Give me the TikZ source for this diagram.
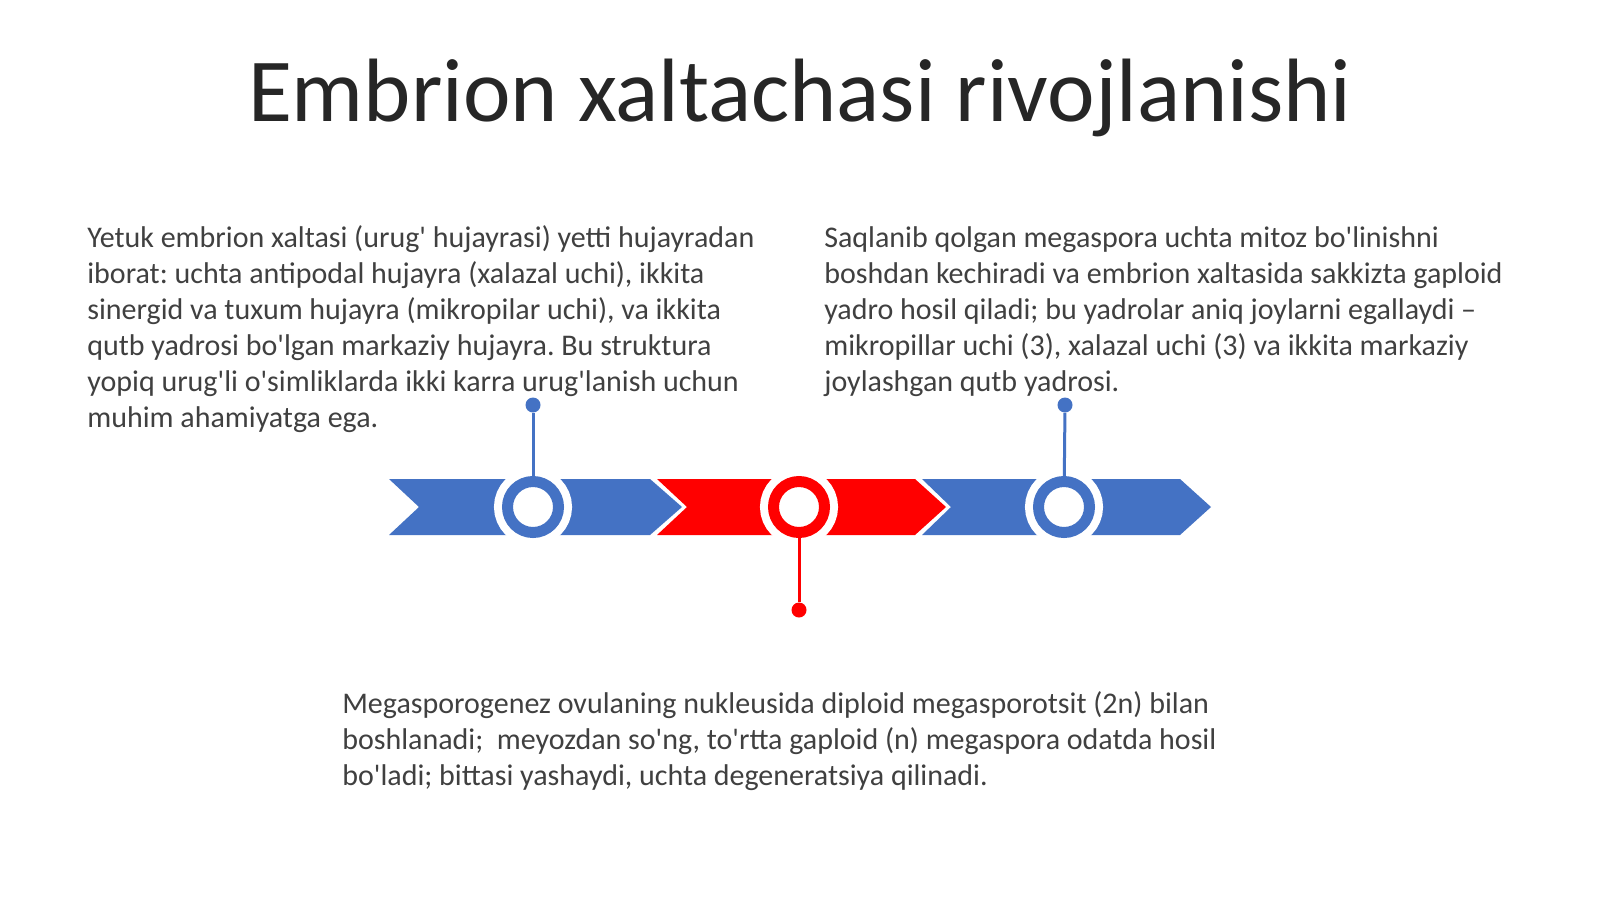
\documentclass[tikz,border=0pt]{standalone}
\usepackage{fontspec}
\setmainfont{Carlito}[Ligatures=TeXOff]
\usepackage{tikz}
\usetikzlibrary{arrows.meta, positioning, shapes, calc}
\usepackage{xcolor}

\definecolor{stepblue}{HTML}{4472C4}
\definecolor{stepred}{HTML}{FF0000}
\definecolor{bodytext}{HTML}{404040}
\definecolor{titletext}{HTML}{262626}

\tikzset{
    ring/.style={circle, inner sep=0pt, minimum size=30.6pt, fill=white,
        draw=#1, line width=6.6pt, preaction={draw=white, line width=16.2pt}},
    pin/.style={circle, inner sep=0pt, minimum size=9pt, fill=#1},
    stem/.style={draw=#1, line width=1.8pt},
    para/.style={anchor=base west, inner sep=0pt, align=left, text=bodytext,
        font=\fontsize{18}{21.6}\selectfont\frenchspacing}
}

\begin{document}
\begin{tikzpicture}[x=0.6pt, y=-0.6pt]
        \useasboundingbox (0,0) rectangle (1600,899);
        \fill[white] (0,0) rectangle (1600,899);

        % Title
        \node[text=titletext, font=\fontsize{54}{60}\selectfont, anchor=base] (title) at (800,121) {Embrion xaltachasi rivojlanishi};

        % Draw the chevron band
        \fill[stepblue] (389,479) -- (650,479) -- (682,507) -- (650,535) -- (389,535) -- (419,507) -- cycle;
        \fill[stepred] (657,479) -- (915,479) -- (946,507) -- (915,535) -- (657,535) -- (687,507) -- cycle;
        \fill[stepblue] (922,479) -- (1180,479) -- (1211,507) -- (1180,535) -- (922,535) -- (951,507) -- cycle;

        % Milestones
        \node[ring=stepblue] (m1) at (533,507) {};
        \node[ring=stepred] (m2) at (799,507) {};
        \node[ring=stepblue] (m3) at (1064,507) {};
        \node[pin=stepblue] (p1) at (533,405) {};
        \node[pin=stepred] (p2) at (799,610) {};
        \node[pin=stepblue] (p3) at (1065,405) {};
        \draw[stem=stepblue] (m1) -- (p1);
        \draw[stem=stepred] (m2) -- (p2);
        \draw[stem=stepblue] (m3) -- (p3);

        % Labels (base = last line)
        \node[para] (embryoSac) at (87,427) {Yetuk embrion xaltasi (urug' hujayrasi) yetti hujayradan\\
            iborat: uchta antipodal hujayra (xalazal uchi), ikkita\\
            sinergid va tuxum hujayra (mikropilar uchi), va ikkita\\
            qutb yadrosi bo'lgan markaziy hujayra. Bu struktura\\
            yopiq urug'li o'simliklarda ikki karra urug'lanish uchun\\
            muhim ahamiyatga ega.};
        \node[para] (mitosis) at (824,391) {Saqlanib qolgan megaspora uchta mitoz bo'linishni\\
            boshdan kechiradi va embrion xaltasida sakkizta gaploid\\
            yadro hosil qiladi; bu yadrolar aniq joylarni egallaydi –\\
            mikropillar uchi (3), xalazal uchi (3) va ikkita markaziy\\
            joylashgan qutb yadrosi.};
        \node[para] (meiosis) at (342,785) {Megasporogenez ovulaning nukleusida diploid megasporotsit (2n) bilan\\
            boshlanadi;\ \ meyozdan so'ng, to'rtta gaploid (n) megaspora odatda hosil\\
            bo'ladi; bittasi yashaydi, uchta degeneratsiya qilinadi.};
    \end{tikzpicture}
\end{document}
